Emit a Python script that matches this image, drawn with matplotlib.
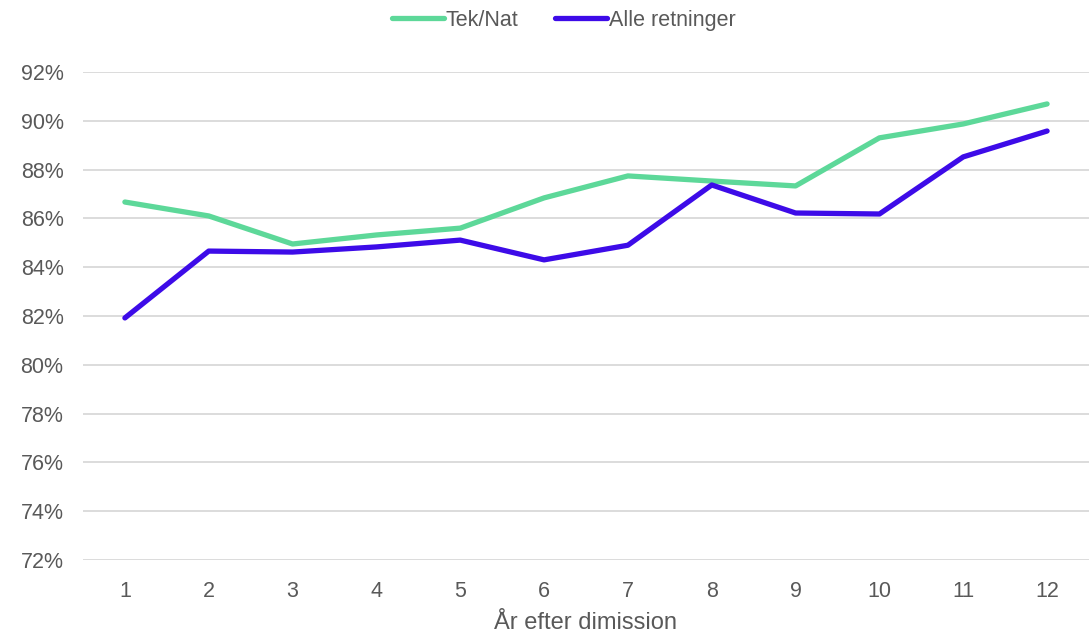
import matplotlib
matplotlib.use("Agg")
import matplotlib.pyplot as plt
from matplotlib.ticker import FuncFormatter

years = [1, 2, 3, 4, 5, 6, 7, 8, 9, 10, 11, 12]
tek_nat = [86.67, 86.1, 84.95, 85.32, 85.6, 86.84, 87.74, 87.53, 87.33, 89.3, 89.87, 90.69]
alle = [81.92, 84.66, 84.62, 84.83, 85.11, 84.3, 84.9, 87.37, 86.22, 86.18, 88.52, 89.58]
series_names = ["Tek/Nat", "Alle retninger"]
colors = ["#5DD899", "#3D0BE8"]
x_label = "År efter dimission"

plt.rcParams['font.family'] = ['Liberation Sans', 'DejaVu Sans']
fig = plt.figure(figsize=(10.89, 6.37), dpi=100)
ax = fig.add_axes([0.0762, 0.1209, 0.9238, 0.7661])

ax.plot(years, tek_nat, color=colors[0], lw=3.8, label=series_names[0], solid_capstyle='round')
ax.plot(years, alle, color=colors[1], lw=3.8, label=series_names[1], solid_capstyle='round')

ax.set_xlim(0.5, 12.5)
ax.set_ylim(72, 92)
ax.set_yticks(range(72, 93, 2))
ax.set_xticks(years)
ax.yaxis.set_major_formatter(FuncFormatter(lambda v, p: f"{int(v)}%"))
ax.grid(axis='y', color='#D9D9D9', lw=1.3)
ax.set_axisbelow(True)
for s in ax.spines.values():
    s.set_visible(False)
ax.tick_params(length=0, labelsize=15.5, labelcolor='#595959')
ax.tick_params(axis='y', pad=14)
ax.tick_params(axis='x', pad=15)
ax.set_xlabel(x_label, fontsize=17, color='#595959', labelpad=7)

ax.legend(loc='lower center', bbox_to_anchor=(0.478, 1.045), ncol=2, frameon=False,
          fontsize=15.5, labelcolor='#595959', handlelength=2.4, handletextpad=0.1,
          columnspacing=1.7)

fig.savefig("out.png", dpi=100)
